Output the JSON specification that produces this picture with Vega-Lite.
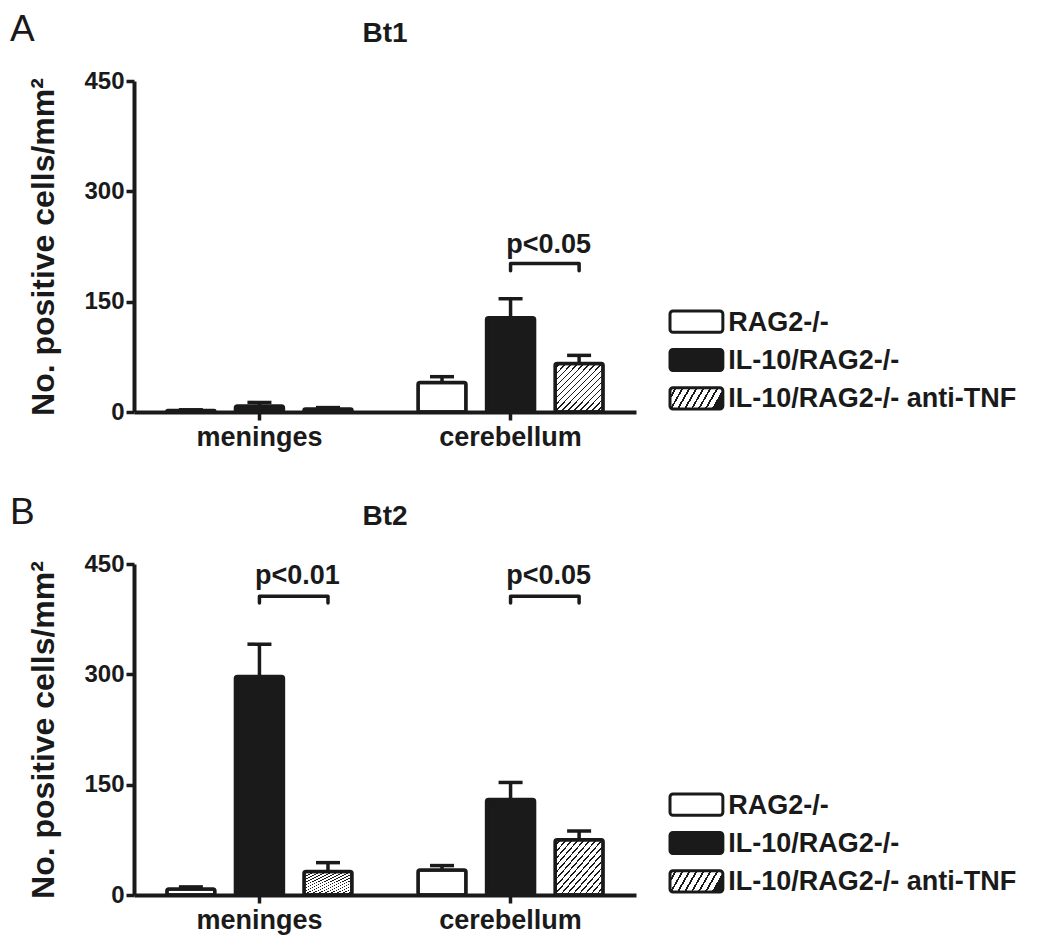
{
  "$schema": "https://vega.github.io/schema/vega-lite/v6.json",
  "background": "white",
  "padding": {"left": 9, "top": 11, "right": 5, "bottom": 5},
  "config": {
    "view": {"stroke": null},
    "font": "Liberation Sans",
    "axis": {
      "domainColor": "#1a1a1a", "domainWidth": 4, "tickColor": "#1a1a1a", "tickWidth": 3.5, "tickSize": 8,
      "labelColor": "#1a1a1a", "labelFont": "Liberation Sans", "labelFontWeight": "bold", "grid": false,
      "titleColor": "#1a1a1a", "titleFont": "Liberation Sans", "titleFontWeight": "bold"
    },
    "title": {"color": "#1a1a1a", "font": "Liberation Sans"}
  },
  "datasets": {
    "bars": [
      {"panel": "A", "region": "meninges", "group": "RAG2-/-", "value": 2, "err": 3},
      {"panel": "A", "region": "meninges", "group": "IL-10/RAG2-/-", "value": 8, "err": 13},
      {"panel": "A", "region": "meninges", "group": "IL-10/RAG2-/- anti-TNF", "value": 4, "err": 6},
      {"panel": "A", "region": "cerebellum", "group": "RAG2-/-", "value": 40, "err": 48},
      {"panel": "A", "region": "cerebellum", "group": "IL-10/RAG2-/-", "value": 128, "err": 154},
      {"panel": "A", "region": "cerebellum", "group": "IL-10/RAG2-/- anti-TNF", "value": 66, "err": 77},
      {"panel": "B", "region": "meninges", "group": "RAG2-/-", "value": 8, "err": 11},
      {"panel": "B", "region": "meninges", "group": "IL-10/RAG2-/-", "value": 297, "err": 341},
      {"panel": "B", "region": "meninges", "group": "IL-10/RAG2-/- anti-TNF", "value": 32, "err": 44},
      {"panel": "B", "region": "cerebellum", "group": "RAG2-/-", "value": 34, "err": 40},
      {"panel": "B", "region": "cerebellum", "group": "IL-10/RAG2-/-", "value": 130, "err": 153},
      {"panel": "B", "region": "cerebellum", "group": "IL-10/RAG2-/- anti-TNF", "value": 75, "err": 87}
    ],
    "brackets": [
      {"panel": "A", "id": "A-c", "region": "cerebellum", "group": "IL-10/RAG2-/-", "ord": 1, "y": 192},
      {"panel": "A", "id": "A-c", "region": "cerebellum", "group": "IL-10/RAG2-/-", "ord": 2, "y": 202},
      {"panel": "A", "id": "A-c", "region": "cerebellum", "group": "IL-10/RAG2-/- anti-TNF", "ord": 3, "y": 202},
      {"panel": "A", "id": "A-c", "region": "cerebellum", "group": "IL-10/RAG2-/- anti-TNF", "ord": 4, "y": 192},
      {"panel": "B", "id": "B-m", "region": "meninges", "group": "IL-10/RAG2-/-", "ord": 1, "y": 397},
      {"panel": "B", "id": "B-m", "region": "meninges", "group": "IL-10/RAG2-/-", "ord": 2, "y": 406},
      {"panel": "B", "id": "B-m", "region": "meninges", "group": "IL-10/RAG2-/- anti-TNF", "ord": 3, "y": 406},
      {"panel": "B", "id": "B-m", "region": "meninges", "group": "IL-10/RAG2-/- anti-TNF", "ord": 4, "y": 397},
      {"panel": "B", "id": "B-c", "region": "cerebellum", "group": "IL-10/RAG2-/-", "ord": 1, "y": 397},
      {"panel": "B", "id": "B-c", "region": "cerebellum", "group": "IL-10/RAG2-/-", "ord": 2, "y": 406},
      {"panel": "B", "id": "B-c", "region": "cerebellum", "group": "IL-10/RAG2-/- anti-TNF", "ord": 3, "y": 406},
      {"panel": "B", "id": "B-c", "region": "cerebellum", "group": "IL-10/RAG2-/- anti-TNF", "ord": 4, "y": 397}
    ],
    "pvals": [
      {"panel": "A", "region": "cerebellum", "group": "IL-10/RAG2-/-", "y": 216, "label": "p<0.05"},
      {"panel": "B", "region": "meninges", "group": "IL-10/RAG2-/-", "y": 423, "label": "p<0.01"},
      {"panel": "B", "region": "cerebellum", "group": "IL-10/RAG2-/-", "y": 423, "label": "p<0.05"}
    ],
    "legend": [
      {"group": "RAG2-/-"},
      {"group": "IL-10/RAG2-/-"},
      {"group": "IL-10/RAG2-/- anti-TNF"}
    ]
  },
  "vconcat": [
    {
      "title": {"text": "A", "anchor": "start", "fontSize": 37, "fontWeight": "normal", "offset": -29, "dx": -18},
      "hconcat": [
        {
          "width": 502, "height": 331,
          "title": {"text": "Bt1", "fontSize": 28, "fontWeight": "bold", "anchor": "middle", "frame": "group", "offset": 21},
          "encoding": {
            "x": {"field": "region", "type": "nominal", "title": null,
              "scale": {"domain": ["meninges", "cerebellum"], "paddingInner": 0.263, "paddingOuter": 0.131},
              "axis": {"labelAngle": 0, "labelFontSize": 27, "labelPadding": 4}},
            "xOffset": {"field": "group", "type": "nominal",
              "scale": {"domain": ["RAG2-/-", "IL-10/RAG2-/-", "IL-10/RAG2-/- anti-TNF"], "paddingInner": 0.3, "paddingOuter": 0}}
          },
          "layer": [
            {"data": {"name": "bars"}, "transform": [{"filter": "datum.panel === 'A'"}],
             "mark": {"type": "rule", "strokeWidth": 3.5, "color": "#1a1a1a"},
             "encoding": {
               "y": {"field": "value", "type": "quantitative", "scale": {"domain": [0, 450], "nice": false},
                 "axis": {"values": [0, 150, 300, 450], "labelFontSize": 24, "labelPadding": 2, "titleFontSize": 32, "titlePadding": 23},
                 "title": "No. positive cells/mm²"},
               "y2": {"field": "err"}}},
            {"data": {"name": "bars"}, "transform": [{"filter": "datum.panel === 'A' && datum.group === 'RAG2-/-'"}],
             "mark": {"type": "bar", "fill": "white", "stroke": "#1a1a1a", "strokeWidth": 3.5, "cornerRadius": 2},
             "encoding": {"y": {"field": "value", "type": "quantitative"}}},
            {"data": {"name": "bars"}, "transform": [{"filter": "datum.panel === 'A' && datum.group === 'IL-10/RAG2-/-'"}],
             "mark": {"type": "bar", "fill": "#1a1a1a", "stroke": "#1a1a1a", "strokeWidth": 3.5, "cornerRadius": 2},
             "encoding": {"y": {"field": "value", "type": "quantitative"}}},
            {"data": {"name": "bars"}, "transform": [{"filter": "datum.panel === 'A' && datum.group === 'IL-10/RAG2-/- anti-TNF'"}],
             "mark": {"type": "bar", "stroke": "#1a1a1a", "strokeWidth": 3.5, "cornerRadius": 2,
               "fill": {"gradient": "linear", "x1": 0, "y1": 0, "x2": 1, "y2": 1, "stops": [
                 {"offset": 0, "color": "white"}, {"offset": 0.0455, "color": "white"}, {"offset": 0.0455, "color": "#1a1a1a"}, {"offset": 0.0625, "color": "#1a1a1a"},
                 {"offset": 0.0625, "color": "white"}, {"offset": 0.108, "color": "white"}, {"offset": 0.108, "color": "#1a1a1a"}, {"offset": 0.125, "color": "#1a1a1a"},
                 {"offset": 0.125, "color": "white"}, {"offset": 0.1705, "color": "white"}, {"offset": 0.1705, "color": "#1a1a1a"}, {"offset": 0.1875, "color": "#1a1a1a"},
                 {"offset": 0.1875, "color": "white"}, {"offset": 0.233, "color": "white"}, {"offset": 0.233, "color": "#1a1a1a"}, {"offset": 0.25, "color": "#1a1a1a"},
                 {"offset": 0.25, "color": "white"}, {"offset": 0.2955, "color": "white"}, {"offset": 0.2955, "color": "#1a1a1a"}, {"offset": 0.3125, "color": "#1a1a1a"},
                 {"offset": 0.3125, "color": "white"}, {"offset": 0.358, "color": "white"}, {"offset": 0.358, "color": "#1a1a1a"}, {"offset": 0.375, "color": "#1a1a1a"},
                 {"offset": 0.375, "color": "white"}, {"offset": 0.4205, "color": "white"}, {"offset": 0.4205, "color": "#1a1a1a"}, {"offset": 0.4375, "color": "#1a1a1a"},
                 {"offset": 0.4375, "color": "white"}, {"offset": 0.483, "color": "white"}, {"offset": 0.483, "color": "#1a1a1a"}, {"offset": 0.5, "color": "#1a1a1a"},
                 {"offset": 0.5, "color": "white"}, {"offset": 0.5455, "color": "white"}, {"offset": 0.5455, "color": "#1a1a1a"}, {"offset": 0.5625, "color": "#1a1a1a"},
                 {"offset": 0.5625, "color": "white"}, {"offset": 0.608, "color": "white"}, {"offset": 0.608, "color": "#1a1a1a"}, {"offset": 0.625, "color": "#1a1a1a"},
                 {"offset": 0.625, "color": "white"}, {"offset": 0.6705, "color": "white"}, {"offset": 0.6705, "color": "#1a1a1a"}, {"offset": 0.6875, "color": "#1a1a1a"},
                 {"offset": 0.6875, "color": "white"}, {"offset": 0.733, "color": "white"}, {"offset": 0.733, "color": "#1a1a1a"}, {"offset": 0.75, "color": "#1a1a1a"},
                 {"offset": 0.75, "color": "white"}, {"offset": 0.7955, "color": "white"}, {"offset": 0.7955, "color": "#1a1a1a"}, {"offset": 0.8125, "color": "#1a1a1a"},
                 {"offset": 0.8125, "color": "white"}, {"offset": 0.858, "color": "white"}, {"offset": 0.858, "color": "#1a1a1a"}, {"offset": 0.875, "color": "#1a1a1a"},
                 {"offset": 0.875, "color": "white"}, {"offset": 0.9205, "color": "white"}, {"offset": 0.9205, "color": "#1a1a1a"}, {"offset": 0.9375, "color": "#1a1a1a"},
                 {"offset": 0.9375, "color": "white"}, {"offset": 0.983, "color": "white"}, {"offset": 0.983, "color": "#1a1a1a"}, {"offset": 1, "color": "#1a1a1a"}
               ]}},
             "encoding": {"y": {"field": "value", "type": "quantitative"}}},
            {"data": {"name": "bars"}, "transform": [{"filter": "datum.panel === 'A'"}],
             "mark": {"type": "tick", "size": 24, "thickness": 3.5, "color": "#1a1a1a", "opacity": 1},
             "encoding": {"y": {"field": "err", "type": "quantitative"}}},
            {"data": {"name": "brackets"}, "transform": [{"filter": "datum.panel === 'A'"}],
             "mark": {"type": "line", "strokeWidth": 3.5, "color": "#1a1a1a", "strokeCap": "round", "strokeJoin": "round"},
             "encoding": {"y": {"field": "y", "type": "quantitative"}, "detail": {"field": "id"}, "order": {"field": "ord", "type": "quantitative"}}},
            {"data": {"name": "pvals"}, "transform": [{"filter": "datum.panel === 'A'"}],
             "mark": {"type": "text", "fontSize": 27, "fontWeight": "bold", "color": "#1a1a1a", "align": "center", "baseline": "alphabetic", "dx": 38},
             "encoding": {"y": {"field": "y", "type": "quantitative"}, "text": {"field": "label"}}}
          ]
        },
        {
          "width": 370, "height": 331,
          "data": {"name": "legend"},
          "encoding": {
            "y": {"field": "group", "type": "nominal", "axis": null,
              "scale": {"domain": ["RAG2-/-", "IL-10/RAG2-/-", "IL-10/RAG2-/- anti-TNF"], "paddingInner": 0.447, "paddingOuter": 0, "range": [230, 328]}}
          },
          "layer": [
            {"transform": [{"filter": "datum.group === 'RAG2-/-'"}],
             "mark": {"type": "bar", "fill": "white", "stroke": "#1a1a1a", "strokeWidth": 3, "cornerRadius": 3},
             "encoding": {"x": {"datum": 0, "type": "quantitative", "scale": {"domain": [0, 7], "nice": false, "zero": false}, "axis": null}, "x2": {"datum": 1}}},
            {"transform": [{"filter": "datum.group === 'IL-10/RAG2-/-'"}],
             "mark": {"type": "bar", "fill": "#1a1a1a", "stroke": "#1a1a1a", "strokeWidth": 3, "cornerRadius": 3},
             "encoding": {"x": {"datum": 0, "type": "quantitative"}, "x2": {"datum": 1}}},
            {"transform": [{"filter": "datum.group === 'IL-10/RAG2-/- anti-TNF'"}],
             "mark": {"type": "bar", "stroke": "#1a1a1a", "strokeWidth": 3, "cornerRadius": 3,
               "fill": {"gradient": "linear", "x1": 0, "y1": 0, "x2": 1, "y2": 0.23, "stops": [
                 {"offset": 0, "color": "white"}, {"offset": 0.09, "color": "white"}, {"offset": 0.09, "color": "#1a1a1a"}, {"offset": 0.125, "color": "#1a1a1a"},
                 {"offset": 0.125, "color": "white"}, {"offset": 0.215, "color": "white"}, {"offset": 0.215, "color": "#1a1a1a"}, {"offset": 0.25, "color": "#1a1a1a"},
                 {"offset": 0.25, "color": "white"}, {"offset": 0.34, "color": "white"}, {"offset": 0.34, "color": "#1a1a1a"}, {"offset": 0.375, "color": "#1a1a1a"},
                 {"offset": 0.375, "color": "white"}, {"offset": 0.465, "color": "white"}, {"offset": 0.465, "color": "#1a1a1a"}, {"offset": 0.5, "color": "#1a1a1a"},
                 {"offset": 0.5, "color": "white"}, {"offset": 0.59, "color": "white"}, {"offset": 0.59, "color": "#1a1a1a"}, {"offset": 0.625, "color": "#1a1a1a"},
                 {"offset": 0.625, "color": "white"}, {"offset": 0.715, "color": "white"}, {"offset": 0.715, "color": "#1a1a1a"}, {"offset": 0.75, "color": "#1a1a1a"},
                 {"offset": 0.75, "color": "white"}, {"offset": 0.84, "color": "white"}, {"offset": 0.84, "color": "#1a1a1a"}, {"offset": 0.875, "color": "#1a1a1a"},
                 {"offset": 0.875, "color": "white"}, {"offset": 0.965, "color": "white"}, {"offset": 0.965, "color": "#1a1a1a"}, {"offset": 1, "color": "#1a1a1a"}
               ]}},
             "encoding": {"x": {"datum": 0, "type": "quantitative"}, "x2": {"datum": 1}}},
            {"mark": {"type": "text", "fontSize": 27, "fontWeight": "bold", "color": "#1a1a1a", "align": "left", "baseline": "middle", "dy": 1},
             "encoding": {"x": {"datum": 1.1, "type": "quantitative"}, "text": {"field": "group"}}}
          ]
        }
      ],
      "spacing": 32
    },
    {
      "title": {"text": "B", "anchor": "start", "fontSize": 37, "fontWeight": "normal", "offset": -29, "dx": -18},
      "hconcat": [
        {
          "width": 502, "height": 331,
          "title": {"text": "Bt2", "fontSize": 28, "fontWeight": "bold", "anchor": "middle", "frame": "group", "offset": 21},
          "encoding": {
            "x": {"field": "region", "type": "nominal", "title": null,
              "scale": {"domain": ["meninges", "cerebellum"], "paddingInner": 0.263, "paddingOuter": 0.131},
              "axis": {"labelAngle": 0, "labelFontSize": 27, "labelPadding": 4}},
            "xOffset": {"field": "group", "type": "nominal",
              "scale": {"domain": ["RAG2-/-", "IL-10/RAG2-/-", "IL-10/RAG2-/- anti-TNF"], "paddingInner": 0.3, "paddingOuter": 0}}
          },
          "layer": [
            {"data": {"name": "bars"}, "transform": [{"filter": "datum.panel === 'B'"}],
             "mark": {"type": "rule", "strokeWidth": 3.5, "color": "#1a1a1a"},
             "encoding": {
               "y": {"field": "value", "type": "quantitative", "scale": {"domain": [0, 450], "nice": false},
                 "axis": {"values": [0, 150, 300, 450], "labelFontSize": 24, "labelPadding": 2, "titleFontSize": 32, "titlePadding": 23},
                 "title": "No. positive cells/mm²"},
               "y2": {"field": "err"}}},
            {"data": {"name": "bars"}, "transform": [{"filter": "datum.panel === 'B' && datum.group === 'RAG2-/-'"}],
             "mark": {"type": "bar", "fill": "white", "stroke": "#1a1a1a", "strokeWidth": 3.5, "cornerRadius": 2},
             "encoding": {"y": {"field": "value", "type": "quantitative"}}},
            {"data": {"name": "bars"}, "transform": [{"filter": "datum.panel === 'B' && datum.group === 'IL-10/RAG2-/-'"}],
             "mark": {"type": "bar", "fill": "#1a1a1a", "stroke": "#1a1a1a", "strokeWidth": 3.5, "cornerRadius": 2},
             "encoding": {"y": {"field": "value", "type": "quantitative"}}},
            {"data": {"name": "bars"}, "transform": [{"filter": "datum.panel === 'B' && datum.group === 'IL-10/RAG2-/- anti-TNF'"}],
             "mark": {"type": "bar", "stroke": "#1a1a1a", "strokeWidth": 3.5, "cornerRadius": 2,
               "fill": {"gradient": "linear", "x1": 0, "y1": 0, "x2": 1, "y2": 1, "stops": [
                 {"offset": 0, "color": "white"}, {"offset": 0.0455, "color": "white"}, {"offset": 0.0455, "color": "#1a1a1a"}, {"offset": 0.0625, "color": "#1a1a1a"},
                 {"offset": 0.0625, "color": "white"}, {"offset": 0.108, "color": "white"}, {"offset": 0.108, "color": "#1a1a1a"}, {"offset": 0.125, "color": "#1a1a1a"},
                 {"offset": 0.125, "color": "white"}, {"offset": 0.1705, "color": "white"}, {"offset": 0.1705, "color": "#1a1a1a"}, {"offset": 0.1875, "color": "#1a1a1a"},
                 {"offset": 0.1875, "color": "white"}, {"offset": 0.233, "color": "white"}, {"offset": 0.233, "color": "#1a1a1a"}, {"offset": 0.25, "color": "#1a1a1a"},
                 {"offset": 0.25, "color": "white"}, {"offset": 0.2955, "color": "white"}, {"offset": 0.2955, "color": "#1a1a1a"}, {"offset": 0.3125, "color": "#1a1a1a"},
                 {"offset": 0.3125, "color": "white"}, {"offset": 0.358, "color": "white"}, {"offset": 0.358, "color": "#1a1a1a"}, {"offset": 0.375, "color": "#1a1a1a"},
                 {"offset": 0.375, "color": "white"}, {"offset": 0.4205, "color": "white"}, {"offset": 0.4205, "color": "#1a1a1a"}, {"offset": 0.4375, "color": "#1a1a1a"},
                 {"offset": 0.4375, "color": "white"}, {"offset": 0.483, "color": "white"}, {"offset": 0.483, "color": "#1a1a1a"}, {"offset": 0.5, "color": "#1a1a1a"},
                 {"offset": 0.5, "color": "white"}, {"offset": 0.5455, "color": "white"}, {"offset": 0.5455, "color": "#1a1a1a"}, {"offset": 0.5625, "color": "#1a1a1a"},
                 {"offset": 0.5625, "color": "white"}, {"offset": 0.608, "color": "white"}, {"offset": 0.608, "color": "#1a1a1a"}, {"offset": 0.625, "color": "#1a1a1a"},
                 {"offset": 0.625, "color": "white"}, {"offset": 0.6705, "color": "white"}, {"offset": 0.6705, "color": "#1a1a1a"}, {"offset": 0.6875, "color": "#1a1a1a"},
                 {"offset": 0.6875, "color": "white"}, {"offset": 0.733, "color": "white"}, {"offset": 0.733, "color": "#1a1a1a"}, {"offset": 0.75, "color": "#1a1a1a"},
                 {"offset": 0.75, "color": "white"}, {"offset": 0.7955, "color": "white"}, {"offset": 0.7955, "color": "#1a1a1a"}, {"offset": 0.8125, "color": "#1a1a1a"},
                 {"offset": 0.8125, "color": "white"}, {"offset": 0.858, "color": "white"}, {"offset": 0.858, "color": "#1a1a1a"}, {"offset": 0.875, "color": "#1a1a1a"},
                 {"offset": 0.875, "color": "white"}, {"offset": 0.9205, "color": "white"}, {"offset": 0.9205, "color": "#1a1a1a"}, {"offset": 0.9375, "color": "#1a1a1a"},
                 {"offset": 0.9375, "color": "white"}, {"offset": 0.983, "color": "white"}, {"offset": 0.983, "color": "#1a1a1a"}, {"offset": 1, "color": "#1a1a1a"}
               ]}},
             "encoding": {"y": {"field": "value", "type": "quantitative"}}},
            {"data": {"name": "bars"}, "transform": [{"filter": "datum.panel === 'B'"}],
             "mark": {"type": "tick", "size": 24, "thickness": 3.5, "color": "#1a1a1a", "opacity": 1},
             "encoding": {"y": {"field": "err", "type": "quantitative"}}},
            {"data": {"name": "brackets"}, "transform": [{"filter": "datum.panel === 'B'"}],
             "mark": {"type": "line", "strokeWidth": 3.5, "color": "#1a1a1a", "strokeCap": "round", "strokeJoin": "round"},
             "encoding": {"y": {"field": "y", "type": "quantitative"}, "detail": {"field": "id"}, "order": {"field": "ord", "type": "quantitative"}}},
            {"data": {"name": "pvals"}, "transform": [{"filter": "datum.panel === 'B'"}],
             "mark": {"type": "text", "fontSize": 27, "fontWeight": "bold", "color": "#1a1a1a", "align": "center", "baseline": "alphabetic", "dx": 38},
             "encoding": {"y": {"field": "y", "type": "quantitative"}, "text": {"field": "label"}}}
          ]
        },
        {
          "width": 370, "height": 331,
          "data": {"name": "legend"},
          "encoding": {
            "y": {"field": "group", "type": "nominal", "axis": null,
              "scale": {"domain": ["RAG2-/-", "IL-10/RAG2-/-", "IL-10/RAG2-/- anti-TNF"], "paddingInner": 0.447, "paddingOuter": 0, "range": [230, 328]}}
          },
          "layer": [
            {"transform": [{"filter": "datum.group === 'RAG2-/-'"}],
             "mark": {"type": "bar", "fill": "white", "stroke": "#1a1a1a", "strokeWidth": 3, "cornerRadius": 3},
             "encoding": {"x": {"datum": 0, "type": "quantitative", "scale": {"domain": [0, 7], "nice": false, "zero": false}, "axis": null}, "x2": {"datum": 1}}},
            {"transform": [{"filter": "datum.group === 'IL-10/RAG2-/-'"}],
             "mark": {"type": "bar", "fill": "#1a1a1a", "stroke": "#1a1a1a", "strokeWidth": 3, "cornerRadius": 3},
             "encoding": {"x": {"datum": 0, "type": "quantitative"}, "x2": {"datum": 1}}},
            {"transform": [{"filter": "datum.group === 'IL-10/RAG2-/- anti-TNF'"}],
             "mark": {"type": "bar", "stroke": "#1a1a1a", "strokeWidth": 3, "cornerRadius": 3,
               "fill": {"gradient": "linear", "x1": 0, "y1": 0, "x2": 1, "y2": 0.23, "stops": [
                 {"offset": 0, "color": "white"}, {"offset": 0.09, "color": "white"}, {"offset": 0.09, "color": "#1a1a1a"}, {"offset": 0.125, "color": "#1a1a1a"},
                 {"offset": 0.125, "color": "white"}, {"offset": 0.215, "color": "white"}, {"offset": 0.215, "color": "#1a1a1a"}, {"offset": 0.25, "color": "#1a1a1a"},
                 {"offset": 0.25, "color": "white"}, {"offset": 0.34, "color": "white"}, {"offset": 0.34, "color": "#1a1a1a"}, {"offset": 0.375, "color": "#1a1a1a"},
                 {"offset": 0.375, "color": "white"}, {"offset": 0.465, "color": "white"}, {"offset": 0.465, "color": "#1a1a1a"}, {"offset": 0.5, "color": "#1a1a1a"},
                 {"offset": 0.5, "color": "white"}, {"offset": 0.59, "color": "white"}, {"offset": 0.59, "color": "#1a1a1a"}, {"offset": 0.625, "color": "#1a1a1a"},
                 {"offset": 0.625, "color": "white"}, {"offset": 0.715, "color": "white"}, {"offset": 0.715, "color": "#1a1a1a"}, {"offset": 0.75, "color": "#1a1a1a"},
                 {"offset": 0.75, "color": "white"}, {"offset": 0.84, "color": "white"}, {"offset": 0.84, "color": "#1a1a1a"}, {"offset": 0.875, "color": "#1a1a1a"},
                 {"offset": 0.875, "color": "white"}, {"offset": 0.965, "color": "white"}, {"offset": 0.965, "color": "#1a1a1a"}, {"offset": 1, "color": "#1a1a1a"}
               ]}},
             "encoding": {"x": {"datum": 0, "type": "quantitative"}, "x2": {"datum": 1}}},
            {"mark": {"type": "text", "fontSize": 27, "fontWeight": "bold", "color": "#1a1a1a", "align": "left", "baseline": "middle", "dy": 1},
             "encoding": {"x": {"datum": 1.1, "type": "quantitative"}, "text": {"field": "group"}}}
          ]
        }
      ],
      "spacing": 32
    }
  ],
  "spacing": 44
}
